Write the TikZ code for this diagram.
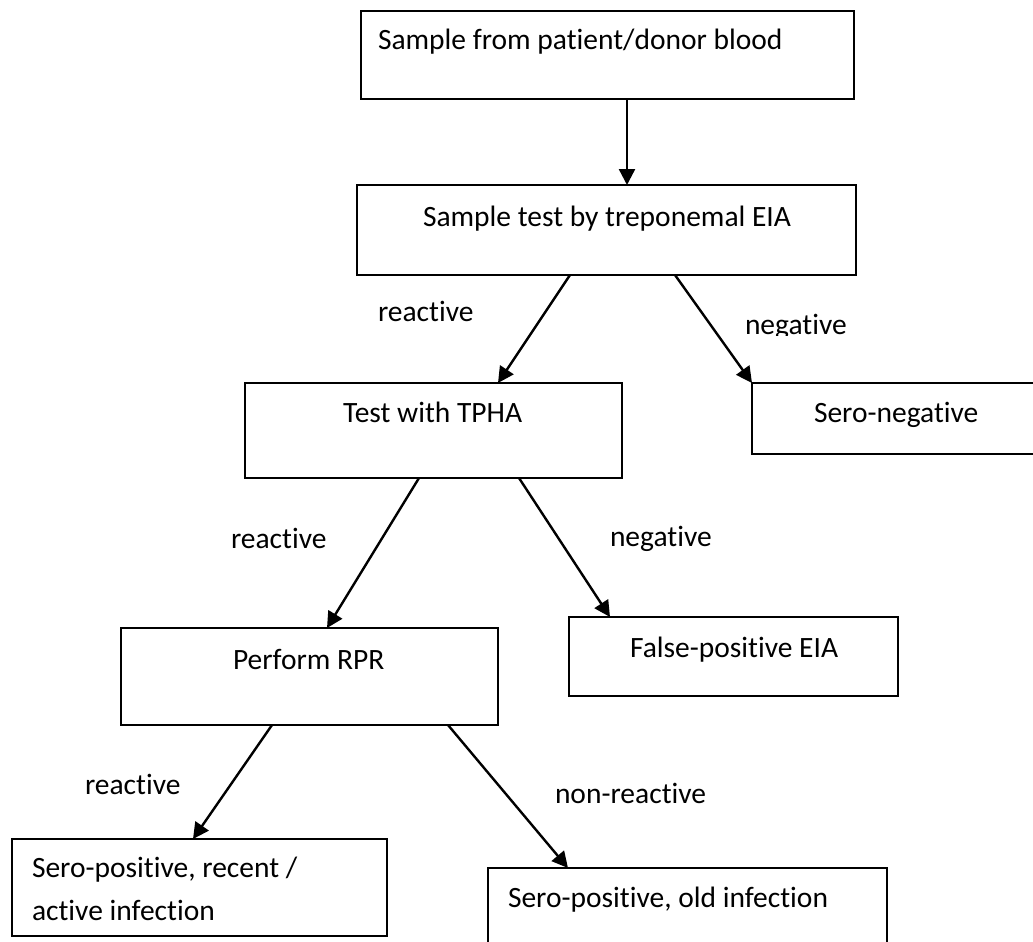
\documentclass[tikz,border=0pt]{standalone}
\usepackage{fontspec}
\setmainfont{Carlito}[Ligatures=NoCommon]
\usetikzlibrary{arrows.meta}
\begin{document}
\begin{tikzpicture}[x=1pt,y=-1pt,
  box/.style={draw=black,line width=2.4pt,fill=white,inner sep=0pt,outer sep=0pt,rectangle},
  txt/.style={anchor=base west,inner sep=0pt,outer sep=0pt,font=\fontsize{29.5}{40}\selectfont},
  flow/.style={line width=2.4pt,-{Triangle[length=16pt,width=16pt]}}]
\clip (0,0) rectangle (1033,942);
\fill[white] (0,0) rectangle (1033,942);

% boxes
\node[box,minimum width=493pt,minimum height=88pt] (b1) at (607.5,55) {};
\node[box,minimum width=499pt,minimum height=90pt] (b2) at (606.5,230) {};
\node[box,minimum width=377pt,minimum height=95pt] (b3) at (433.5,430.5) {};
\node[box,minimum width=308pt,minimum height=71pt] (sn) at (906,418.5) {};
\node[box,minimum width=329pt,minimum height=79pt] (fp) at (733.5,656.5) {};
\node[box,minimum width=377pt,minimum height=97pt] (rpr) at (309.5,676.5) {};
\node[box,minimum width=375pt,minimum height=97pt] (bl) at (199.5,887.5) {};
\node[box,minimum width=399pt,minimum height=102pt] (br) at (687.5,919) {};

% box texts
\node[txt] (t1) at (378,50) {Sample from patient/donor blood};
\node[txt] (t2) at (423,226) {Sample test by treponemal EIA};
\node[txt] (t3) at (343,422) {Test with TPHA};
\node[txt] (t4) at (814,422) {Sero-negative};
\node[txt] (t5) at (630,657) {False-positive EIA};
\node[txt] (t6) at (233,669) {Perform RPR};
\node[txt] (t7) at (32,877) {Sero-positive, recent /};
\node[txt] (t8) at (32,920) {active infection};
\node[txt] (t9) at (508,907) {Sero-positive, old infection};

% connectors
\draw[flow] ([xshift=266pt]b1.south west) -- ([xshift=270pt]b2.north west);
\draw[flow] ([xshift=213pt]b2.south west) -- ([xshift=253pt]b3.north west);
\draw[flow] ([xshift=318pt]b2.south west) -- (sn.north west);
\draw[flow] ([xshift=174pt]b3.south west) -- ([xshift=206pt]rpr.north west);
\draw[flow] ([xshift=274pt]b3.south west) -- ([xshift=41pt]fp.north west);
\draw[flow] ([xshift=151pt]rpr.south west) -- ([xshift=181pt]bl.north west);
\draw[flow] ([xshift=327pt]rpr.south west) -- ([xshift=80pt]br.north west);

% branch labels
\node[txt] (l1) at (378,321) {reactive};
\begin{scope}
  \clip (700,290) rectangle (900,335);
  \node[txt] (l2) at (745,334) {negative};
\end{scope}
\node[txt] (l3) at (231,548) {reactive};
\node[txt] (l4) at (610,546) {negative};
\node[txt] (l5) at (85,794) {reactive};
\node[txt] (l6) at (555,803) {non-reactive};
\end{tikzpicture}
\end{document}
